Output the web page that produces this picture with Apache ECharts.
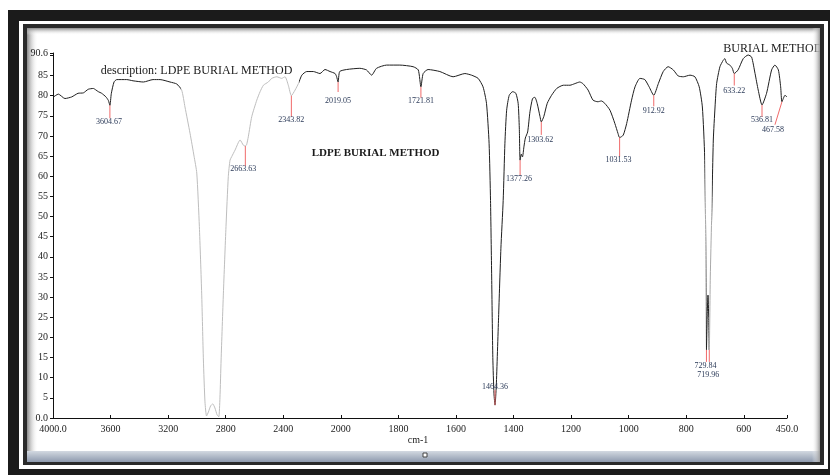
<!DOCTYPE html>
<html><head><meta charset="utf-8">
<script src="https://cdn.jsdelivr.net/npm/echarts@6/dist/echarts.min.js"></script>
<style>html,body{margin:0;padding:0;background:#fff}#c{width:830px;height:475px}</style>
</head><body><div id="c"></div><script>
// ---- data (wavenumber in cm-1, %T) ----
const wavenumber = [4000,3963,3917,3870,3826,3789,3755,3720,3701,3685,3662,3632,3615,3604.67,3595,3576,3557,3488,3444,3372,3305,3256,3187,3140,3106,3083,3048,3020,3001,2983,2967,2955,2944,2933,2920,2905,2890,2875,2860,2848,2840,2832,2816,2798,2782,2770,2758,2735,2700,2677,2663.63,2655,2643,2619,2584,2561,2538,2504,2480,2445,2411,2388,2365,2343.82,2318,2295,2271,2237,2191,2145,2110,2075,2040,2030,2019.05,2008,1980,1934,1911,1893,1876,1841,1795,1749,1731,1721.81,1714,1697,1656,1610,1569,1546,1523,1506,1494,1485,1480,1476,1472,1468,1464.36,1460,1452,1444,1436,1430,1424,1415,1403,1392,1384,1380,1377.26,1373,1369,1364,1359,1351,1343,1334,1326,1318,1308,1303.62,1295,1283,1268,1250,1227,1204,1187,1170,1159,1141,1124,1107,1095,1083,1065,1048,1037,1031.53,1019,1007,990,978,961,944,929,912.92,897,880,863,845,828,810,787,770,755,744,736,732.5,729.84,727,724.5,722,719.96,716.5,712,706,700,694.5,683,671.5,666,660,648.5,640,633.22,620,602,585,573,561,550,536.81,521,503.5,492,480,472,467.58,457,450];
const transmittance = [79.6,80.4,79.3,79.7,80.6,80.7,81.6,81.8,81.4,81.0,80.6,79.7,78.8,77.6,80.5,83.4,84.0,84.0,83.7,83.4,84.0,84.0,83.4,82.9,81.4,77.2,70.7,65.0,60.8,47.5,31.0,14.4,4.0,0.5,1.5,3.0,3.5,2.5,0.8,0.3,5.0,14.4,31.0,47.5,59.9,64.0,64.9,66.5,69.0,67.7,67.5,67.8,69.8,74.8,78.9,81.0,82.6,83.4,84.3,84.7,84.3,84.7,82.6,80.0,81.4,83.0,85.1,86.0,86.0,85.5,86.5,86.0,85.5,84.8,83.4,86.0,86.5,86.8,86.4,85.1,86.8,87.6,87.6,87.2,86.4,82.2,85.5,86.5,86.0,84.7,85.5,85.1,84.3,82.2,78.1,68.2,54.0,35.0,15.0,6.0,3.2,8.0,25.0,42.0,54.0,68.2,76.4,80.1,81.0,80.6,78.1,72.0,64.0,65.5,64.8,67.3,69.5,71.0,76.0,79.3,79.6,78.1,74.8,73.5,74.8,78.1,80.1,81.8,82.6,82.6,83.0,83.4,83.0,81.4,78.9,78.5,78.7,78.1,76.4,73.1,70.6,69.6,70.2,73.1,78.9,82.2,84.3,84.0,82.2,80.1,83.0,86.0,87.2,86.4,84.9,84.7,85.1,84.7,82.2,77.2,64.8,45.0,16.9,26.0,30.5,25.0,16.9,35.0,49.1,69.0,77.2,83.0,87.2,88.8,89.2,88.1,87.6,86.8,85.5,86.4,89.2,90.1,89.6,85.5,81.4,77.7,80.6,86.4,87.6,86.4,82.2,78.5,80.1,79.7];

const peakWavenumber = [3604.67,2663.63,2343.82,2019.05,1721.81,1464.36,1377.26,1303.62,1031.53,912.92,729.84,719.96,633.22,536.81,467.58];
const peakValue = [77.6,67.5,80.0,83.4,82.2,3.2,64.0,73.5,69.6,80.1,16.9,16.9,85.5,77.7,78.5];
const peakLabel = ["3604.67","2663.63","2343.82","2019.05","1721.81","1464.36","1377.26","1303.62","1031.53","912.92","729.84","719.96","633.22","536.81","467.58"];

const yMin = 0, yMax = 90.6;
const xStart = 4000, xBreak = 2000, xEnd = 450;

// ---- styling (pixel offsets of marker line end and label centre) ----
const peakStyle = [
  {lx:0,ly:13,tx:-1,ty:16.5},{lx:0,ly:20,tx:-2,ty:23},{lx:0,ly:21,tx:0,ty:24.5},
  {lx:0,ly:10,tx:0,ty:19},{lx:0,ly:11,tx:0,ty:14.5},{lx:0,ly:-15,tx:0,ty:-18},
  {lx:0,ly:15,tx:-1,ty:19},{lx:0,ly:13,tx:-1,ty:18},{lx:0,ly:19,tx:-1,ty:22.5},
  {lx:0,ly:11,tx:0,ty:15.5},{lx:0,ly:12,tx:-1,ty:16},{lx:0,ly:12,tx:-1,ty:25},
  {lx:0,ly:12,tx:0,ty:17.5},{lx:0,ly:12,tx:0,ty:15},{lx:-7,ly:23,tx:-9,ty:28.5}
];

// axis is expanded 2x below 2000 cm-1
function toAxis(w){ return w >= xBreak ? (xStart - w)/2 : (xStart - xBreak)/2 + (xBreak - w); }
function fromAxis(u){ return u <= (xStart - xBreak)/2 ? xStart - 2*u : xBreak - (u - (xStart - xBreak)/2); }

const FONT = '"Liberation Serif","Times New Roman",serif';
const chart = echarts.init(document.getElementById('c'), null, {renderer:'canvas'});
const uMax = toAxis(xEnd);

const grad = (x1,y1,x2,y2,c1,c2)=>new echarts.graphic.LinearGradient(x1,y1,x2,y2,[{offset:0,color:c1},{offset:1,color:c2}]);

chart.setOption({
  animation:false,
  backgroundColor:'#ffffff',
  grid:{left:53,right:43,top:53,bottom:57},
  xAxis:{type:'value',min:0,max:uMax,interval:200,
    axisLine:{lineStyle:{color:'#111',width:1}},
    axisTick:{inside:true,length:3,lineStyle:{color:'#111'}},
    splitLine:{show:false},
    axisLabel:{margin:6,fontFamily:FONT,fontSize:10,color:'#1c1c1c',
      formatter:v=>{ if(v===0) return '4000.0'; if(Math.abs(v-uMax)<0.01) return '450.0'; return String(Math.round(fromAxis(v))); }}
  },
  yAxis:{type:'value',min:yMin,max:yMax,interval:5,
    axisLine:{show:true,lineStyle:{color:'#111',width:1}},
    axisTick:{show:true,length:3,lineStyle:{color:'#111'}},
    splitLine:{show:false},
    axisLabel:{margin:5,fontFamily:FONT,fontSize:10,color:'#1c1c1c',
      formatter:v=>{ if(v===0) return '0.0'; if(Math.abs(v-yMax)<0.01) return '90.6'; if(v===90) return ''; return String(v); }}
  },
  visualMap:{type:'piecewise',show:false,seriesIndex:0,dimension:0,
    pieces:[
      {gt:toAxis(3110),lt:toAxis(2290),color:'#bdbdbd'},
      {gt:toAxis(734),lt:toAxis(730.5),color:'#a8a8a8'},
      {gt:toAxis(719.5),lt:toAxis(711),color:'#a8a8a8'}
    ],
    outOfRange:{color:'#1e1e1e'}},
  series:[
    {type:'line',data:wavenumber.map((w,i)=>[toAxis(w),transmittance[i]]),
     showSymbol:false,symbol:'none',smooth:0.2,lineStyle:{width:1},z:3},
    {type:'custom',coordinateSystem:'cartesian2d',z:4,
     data:peakWavenumber.map((w,i)=>[toAxis(w),peakValue[i],i]),
     renderItem:(params,api)=>{
       const i = api.value(2);
       const p = api.coord([api.value(0),api.value(1)]);
       const s = peakStyle[i];
       return {type:'group',children:[
         {type:'line',shape:{x1:p[0],y1:p[1],x2:p[0]+s.lx,y2:p[1]+s.ly},style:{stroke:'#f06a6a',lineWidth:1}},
         {type:'text',x:p[0]+s.tx,y:p[1]+s.ty,style:{text:peakLabel[i],font:'8px '+FONT,fill:'#2b3a58',align:'center',verticalAlign:'middle'}}
       ]};
     }}
  ],
  graphic:[
    {type:'rect',z:-10,silent:true,shape:{x:8,y:10,width:822,height:465},style:{fill:'#1b1b1b'}},
    {type:'rect',z:-9,silent:true,shape:{x:19,y:21,width:809,height:448},style:{fill:'#ffffff'}},
    {type:'rect',z:-8,silent:true,shape:{x:23,y:24,width:801,height:441},style:{fill:'#2a2a2a'}},
    {type:'rect',z:-7,silent:true,shape:{x:27,y:28,width:793,height:434},style:{fill:'#ffffff'}},
    {type:'rect',z:-6,silent:true,shape:{x:27,y:28,width:11,height:434},style:{fill:grad(0,0,1,0,'#8a8a8a','rgba(255,255,255,0)')}},
    {type:'rect',z:-6,silent:true,shape:{x:27,y:28,width:793,height:7},style:{fill:grad(0,0,0,1,'#8a8a8a','rgba(255,255,255,0)')}},
    {type:'rect',z:-5,silent:true,shape:{x:27,y:451,width:793,height:11},style:{fill:grad(0,0,0,1,'#d3d9e1','#8e9aae')}},
    {type:'rect',z:-4,silent:true,shape:{x:423,y:453,width:4,height:4},style:{fill:'#ffffff',stroke:'#444',lineWidth:1}},
    {type:'text',z:5,silent:true,x:100.7,y:70.7,style:{text:'description: LDPE BURIAL METHOD',font:'12px '+FONT,fill:'#1a1a1a',verticalAlign:'middle'}},
    {type:'text',z:5,silent:true,x:311.7,y:153.3,style:{text:'LDPE BURIAL METHOD',font:'bold 11px '+FONT,fill:'#1a1a1a',verticalAlign:'middle'}},
    {type:'text',z:5,silent:true,x:723.3,y:49.3,style:{text:'BURIAL METHOD',font:'12px '+FONT,fill:'#1a1a1a',verticalAlign:'middle'}},
    {type:'text',z:5,silent:true,x:418,y:440,style:{text:'cm-1',font:'10px '+FONT,fill:'#1a1a1a',align:'center',verticalAlign:'middle'}},
    {type:'rect',z:20,silent:true,shape:{x:812,y:28,width:8,height:434},style:{fill:grad(0,0,1,0,'rgba(255,255,255,0)','#9a9a9a')}},
    {type:'rect',z:21,silent:true,shape:{x:820,y:24,width:4,height:441},style:{fill:'#2a2a2a'}},
    {type:'rect',z:21,silent:true,shape:{x:824,y:21,width:4,height:448},style:{fill:'#ffffff'}},
    {type:'rect',z:21,silent:true,shape:{x:828,y:10,width:2,height:465},style:{fill:'#1b1b1b'}}
  ]
});
</script></body></html>
